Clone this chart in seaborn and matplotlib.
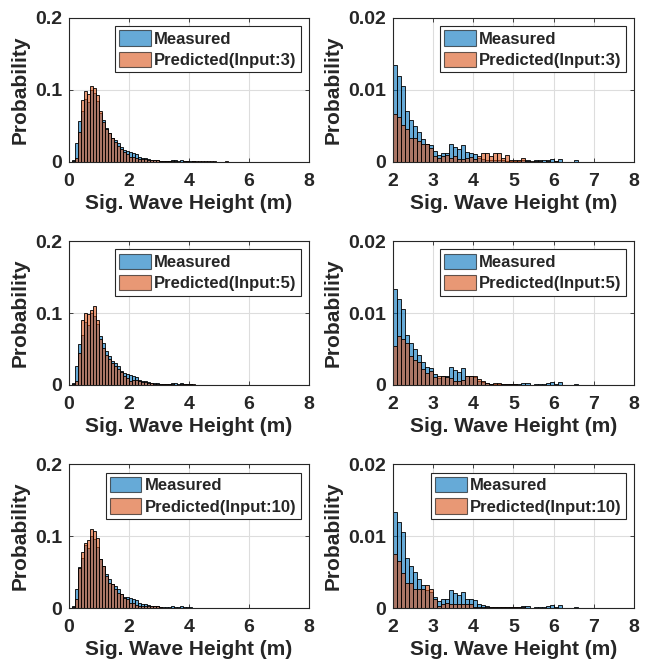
import numpy as np
import pandas as pd
import seaborn as sns
import matplotlib.pyplot as plt
from matplotlib.patches import Patch

# bin centres of the histograms (0.1 m bins from 0 to 7 m)
bin_centers = np.round(np.arange(0.05, 7.0, 0.1), 2)

# probability per bin
measured = [
    0.0, 0.003, 0.026, 0.057, 0.070, 0.088, 0.083, 0.100, 0.096, 0.085,
    0.068, 0.058, 0.047, 0.040, 0.033, 0.031, 0.026, 0.020, 0.016, 0.015,
    0.0134, 0.0119, 0.0106, 0.0070, 0.0058, 0.0050, 0.0041, 0.0032, 0.0025, 0.0023,
    0.0015, 0.0010, 0.0012, 0.0012, 0.0025, 0.0021, 0.0018, 0.0023, 0.0013, 0.0012,
    0.0011, 0.0006, 0.0004, 0.0003, 0.0002, 0.0002, 0.0002, 0.0002, 0.0001, 0.0001,
    0.0001, 0.0001, 0.0003, 0.0003, 0.0, 0.0002, 0.0002, 0.0002, 0.0003, 0.0004,
    0.0001, 0.0004, 0.0, 0.0, 0.0, 0.0002, 0.0, 0.0, 0.0, 0.0,
]
pred_input3 = [
    0.0, 0.001, 0.006, 0.042, 0.086, 0.098, 0.095, 0.105, 0.103, 0.093,
    0.070, 0.056, 0.046, 0.040, 0.033, 0.028, 0.022, 0.018, 0.014, 0.011,
    0.0067, 0.0063, 0.0051, 0.0045, 0.0033, 0.0033, 0.0029, 0.0025, 0.0025, 0.0019,
    0.0008, 0.0006, 0.0008, 0.0009, 0.0006, 0.0008, 0.0004, 0.0004, 0.0005, 0.0007,
    0.0004, 0.0008, 0.0012, 0.0012, 0.0008, 0.0012, 0.0012, 0.0006, 0.0010, 0.0003,
    0.0002, 0.0002, 0.0005, 0.0001, 0.0001, 0.0001, 0.0001, 0.0, 0.0001, 0.0,
    0.0001, 0.0, 0.0, 0.0, 0.0, 0.0, 0.0, 0.0, 0.0, 0.0,
]
pred_input5 = [
    0.0, 0.001, 0.006, 0.045, 0.090, 0.100, 0.098, 0.104, 0.110, 0.090,
    0.064, 0.051, 0.041, 0.036, 0.031, 0.027, 0.022, 0.018, 0.013, 0.010,
    0.0054, 0.0068, 0.0064, 0.0058, 0.0040, 0.0035, 0.0032, 0.0022, 0.0016, 0.0019,
    0.0011, 0.0013, 0.0013, 0.0011, 0.0009, 0.0005, 0.0005, 0.0007, 0.0012, 0.0013,
    0.0013, 0.0008, 0.0005, 0.0003, 0.0002, 0.0003, 0.0003, 0.0001, 0.0002, 0.0002,
    0.0001, 0.0, 0.0, 0.0, 0.0, 0.0, 0.0, 0.0, 0.0, 0.0,
    0.0, 0.0, 0.0, 0.0, 0.0, 0.0, 0.0, 0.0, 0.0, 0.0,
]
pred_input10 = [
    0.0, 0.001, 0.012, 0.055, 0.078, 0.091, 0.094, 0.110, 0.107, 0.097,
    0.068, 0.059, 0.045, 0.035, 0.033, 0.027, 0.021, 0.019, 0.014, 0.013,
    0.0075, 0.0066, 0.0049, 0.0035, 0.0035, 0.0026, 0.0027, 0.0026, 0.0032, 0.0027,
    0.0013, 0.0003, 0.0006, 0.0007, 0.0006, 0.0006, 0.0006, 0.0006, 0.0006, 0.0005,
    0.0002, 0.0002, 0.0001, 0.0001, 0.0001, 0.0001, 0.0001, 0.0001, 0.0001, 0.0001,
    0.0002, 0.0002, 0.0002, 0.0, 0.0, 0.0, 0.0, 0.0, 0.0, 0.0,
    0.0, 0.0, 0.0, 0.0, 0.0, 0.0, 0.0, 0.0, 0.0, 0.0,
]
inputs = [3, 5, 10]
predictions = [pred_input3, pred_input5, pred_input10]

blue = '#0072BD'
orange = '#D95319'

sns.set_style('ticks')
plt.rcParams['font.family'] = ['Liberation Sans', 'DejaVu Sans']
plt.rcParams['font.weight'] = 'bold'

fig = plt.figure(figsize=(6.45, 6.66), dpi=100)

# axes positions in figure fractions
col_left = [0.107, 0.609]
col_width = [0.372, 0.374]
row_bottom = [0.757, 0.422, 0.087]
row_height = 0.216

for r, (n_in, pred) in enumerate(zip(inputs, predictions)):
    df = pd.DataFrame({'x': bin_centers, 'measured': measured, 'predicted': pred})
    for c in range(2):
        ax = fig.add_axes([col_left[c], row_bottom[r], col_width[c], row_height])
        sns.histplot(data=df, x='x', weights='measured', binwidth=0.1, binrange=(0, 7),
                     ax=ax, color=blue, alpha=0.6, edgecolor='black', linewidth=0.6)
        sns.histplot(data=df, x='x', weights='predicted', binwidth=0.1, binrange=(0, 7),
                     ax=ax, color=orange, alpha=0.6, edgecolor='black', linewidth=0.6)
        if c == 0:
            ax.set_xlim(0, 8)
            ax.set_ylim(0, 0.2)
            ax.set_xticks([0, 2, 4, 6, 8])
            ax.set_yticks([0, 0.1, 0.2])
            ax.set_yticklabels(['0', '0.1', '0.2'])
        else:
            ax.set_xlim(2, 8)
            ax.set_ylim(0, 0.02)
            ax.set_xticks([2, 3, 4, 5, 6, 7, 8])
            ax.set_yticks([0, 0.01, 0.02])
            ax.set_yticklabels(['0', '0.01', '0.02'])
        ax.grid(True, color='#dddddd', linewidth=0.8)
        ax.set_axisbelow(True)
        ax.tick_params(direction='in', top=True, right=True, labelsize=14,
                       length=3, width=0.6, color='#262626')
        ax.tick_params(axis='x', pad=8)
        ax.tick_params(axis='y', pad=5)
        for lab in ax.get_xticklabels() + ax.get_yticklabels():
            lab.set_fontweight('bold')
            lab.set_color('#262626')
        for sp in ax.spines.values():
            sp.set_visible(True)
            sp.set_color('#262626')
            sp.set_linewidth(0.8)
        ax.set_xlabel('Sig. Wave Height (m)', fontsize=15, fontweight='bold', labelpad=3)
        ax.set_ylabel('Probability', fontsize=15, fontweight='bold', labelpad=4)

        handles = [Patch(facecolor=blue, alpha=0.6, edgecolor='black', linewidth=0.8),
                   Patch(facecolor=orange, alpha=0.6, edgecolor='black', linewidth=0.8)]
        leg = ax.legend(handles, ['Measured', f'Predicted(Input:{n_in})'],
                        loc='upper right', frameon=True, fancybox=False,
                        framealpha=1, edgecolor='#262626', handlelength=1.9,
                        handleheight=1.05, handletextpad=0.2, borderpad=0.25,
                        labelspacing=0.3, borderaxespad=0.5,
                        prop={'weight': 'bold', 'size': 12})
        leg.get_frame().set_linewidth(0.8)

fig.savefig('out.png', dpi=100)
